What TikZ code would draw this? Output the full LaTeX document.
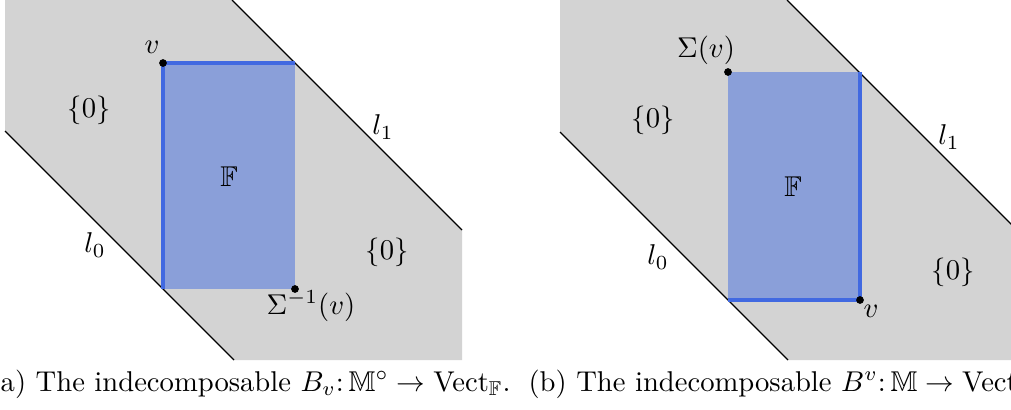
\documentclass[tikz,border=0pt]{standalone}
\usepackage{amssymb}
\definecolor{bandgray}{HTML}{D3D3D3}
\definecolor{boxblue}{HTML}{8A9FD9}
\definecolor{edgeblue}{HTML}{4169E1}
\tikzset{
  band/.style={fill=bandgray, draw=none},
  bline/.style={draw=black, line width=0.4pt},
  boxfill/.style={fill=boxblue, draw=none},
  boxedge/.style={draw=edgeblue, line width=1.4pt},
  dotpt/.style={circle, fill=black, inner sep=0pt, minimum size=2.7pt},
  lbl/.style={inner sep=0pt},
  captext/.style={inner sep=0pt, anchor=base west}
}
\begin{document}
\begin{tikzpicture}[x=0.3494pt, y=-0.3494pt]
\useasboundingbox (0,0) rectangle (1011,409);
\clip (0,0) rectangle (1011,409);
% ---------- panel (a)
\fill[band] (5,0) -- (232,0) -- (462,230) -- (462,360) -- (234,360) -- (5,131) -- cycle;
\coordinate (a0s) at (5,131); \coordinate (a0e) at (234,360);
\coordinate (a1s) at (232,0); \coordinate (a1e) at (462,230);
\draw[bline] (a0s) -- (a0e);
\draw[bline] (a1s) -- (a1e);
\coordinate (atl) at (163,63); \coordinate (atr) at (295,63);
\coordinate (abl) at (163,289); \coordinate (abr) at (295,289);
\fill[boxfill] (atl) rectangle (abr);
\draw[boxedge] (abl) -- (atl) -- (atr);
\node[dotpt] (av) at (atl) {};
\node[dotpt] (asig) at (abr) {};
\node[lbl] (avl) at (152,47) {$v$};
\node[lbl] (asigl) at (311,306) {$\Sigma^{-1}(v)$};
\node[lbl] (az1) at (89,110) {$\{0\}$};
\node[lbl] (az2) at (387,252) {$\{0\}$};
\node[lbl] (al1) at (383,127) {$l_1$};
\node[lbl] (al0) at (95,245) {$l_0$};
\node[lbl] (aF) at (229,177) {$\mathbb{F}$};
\node[captext] (acap) at (-11,391) {(a) The indecomposable $B_v\colon \mathbb{M}^\circ \to \mathrm{Vect}_{\mathbb{F}}$.};
% ---------- panel (b)
\fill[band] (560,0) -- (787,0) -- (1147,360) -- (788,360) -- (560,132) -- cycle;
\coordinate (b0s) at (560,132); \coordinate (b0e) at (788,360);
\coordinate (b1s) at (787,0); \coordinate (b1e) at (1147,360);
\draw[bline] (b0s) -- (b0e);
\draw[bline] (b1s) -- (b1e);
\coordinate (btl) at (728,72); \coordinate (btr) at (860,72);
\coordinate (bbl) at (728,300); \coordinate (bbr) at (860,300);
\fill[boxfill] (btl) rectangle (bbr);
\draw[boxedge] (btr) -- (bbr) -- (bbl);
\node[dotpt] (bsig) at (btl) {};
\node[dotpt] (bv) at (bbr) {};
\node[lbl] (bsigl) at (706,50) {$\Sigma(v)$};
\node[lbl] (bvl) at (871,311) {$v$};
\node[lbl] (bz1) at (653,120) {$\{0\}$};
\node[lbl] (bz2) at (953,272) {$\{0\}$};
\node[lbl] (bl1) at (949,137) {$l_1$};
\node[lbl] (bl0) at (658,257) {$l_0$};
\node[lbl] (bF) at (793,187) {$\mathbb{F}$};
\node[captext] (bcap) at (528,391) {(b) The indecomposable $B^v\colon \mathbb{M} \to \mathrm{Vect}_{\mathbb{F}}$.};
\end{tikzpicture}
\end{document}
